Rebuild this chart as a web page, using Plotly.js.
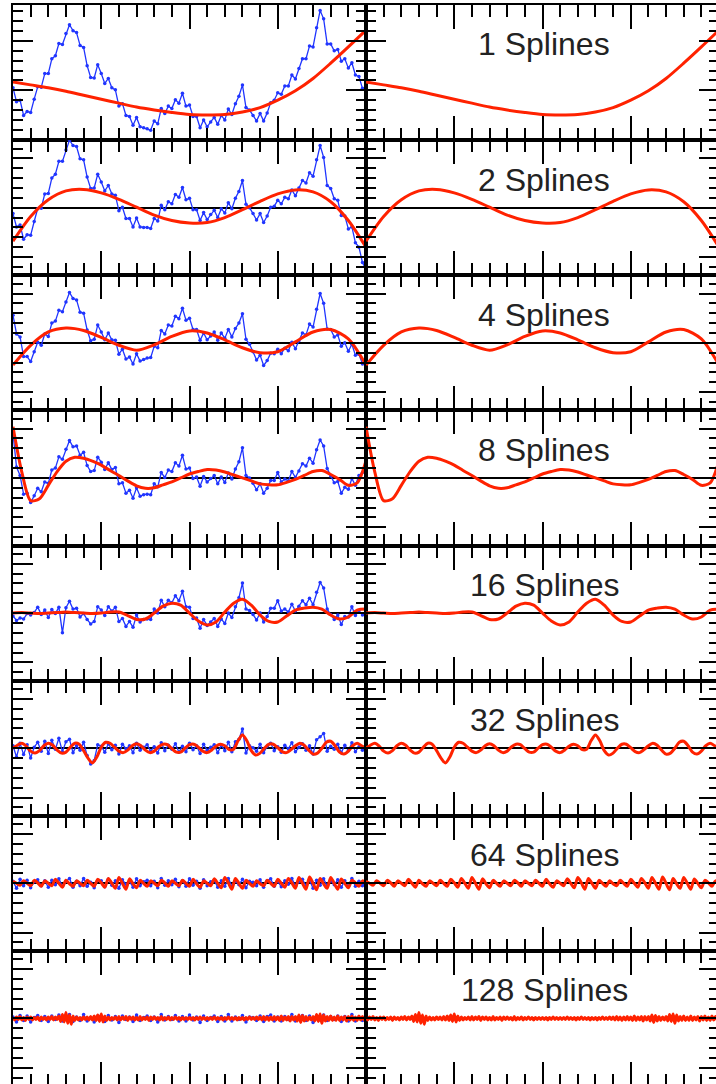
<!DOCTYPE html>
<html><head><meta charset="utf-8">
<script src="https://cdn.plot.ly/plotly-3.0.1.min.js"></script>
<style>html,body{margin:0;padding:0;overflow:hidden;background:#fff}#c{width:730px;height:1090px}</style>
</head><body><div id="c"></div>
<script>
// Residual data (blue) for each stage, sampled evenly across x = 0..20
const data1 = [0.05,-0.23,-0.2,-0.51,-0.43,-0.45,-0.18,0.07,0.06,0.34,0.34,0.64,0.7,0.95,0.93,1.15,1.33,1.21,1.17,0.91,0.87,0.5,0.26,0.25,0.52,0.34,0.14,0.24,0.05,0.01,-0.32,-0.27,-0.51,-0.53,-0.71,-0.55,-0.74,-0.76,-0.78,-0.81,-0.62,-0.68,-0.37,-0.47,-0.32,-0.37,-0.19,-0.26,-0.06,-0.32,-0.3,-0.53,-0.53,-0.76,-0.6,-0.74,-0.64,-0.55,-0.69,-0.51,-0.6,-0.38,-0.49,-0.27,-0.12,0.11,-0.35,-0.4,-0.51,-0.62,-0.47,-0.62,-0.46,-0.25,-0.2,-0.05,-0.08,0.09,0.09,0.31,0.23,0.44,0.64,0.64,0.9,0.88,1.27,1.62,1.45,0.94,0.94,0.8,0.83,0.59,0.64,0.45,0.56,0.31,0.28,0.04,-0.03];
const data2 = [-0.12,-0.39,-0.35,-0.64,-0.55,-0.56,-0.28,-0.02,-0.01,0.28,0.29,0.6,0.68,0.94,0.94,1.17,1.37,1.26,1.24,0.99,0.97,0.62,0.39,0.4,0.68,0.52,0.34,0.45,0.28,0.25,-0.06,0.01,-0.22,-0.22,-0.39,-0.21,-0.39,-0.4,-0.4,-0.42,-0.22,-0.27,0.05,-0.04,0.12,0.08,0.27,0.21,0.41,0.16,0.19,-0.04,-0.04,-0.26,-0.1,-0.24,-0.14,-0.05,-0.2,-0.02,-0.11,0.1,-0.02,0.19,0.33,0.55,0.07,0.0,-0.12,-0.25,-0.12,-0.3,-0.17,0.01,0.03,0.15,0.08,0.21,0.18,0.36,0.24,0.4,0.55,0.5,0.71,0.64,0.97,1.26,1.02,0.45,0.39,0.18,0.15,-0.16,-0.17,-0.43,-0.39,-0.71,-0.8,-1.11,-1.25];
const data3 = [0.56,0.18,0.12,-0.28,-0.28,-0.38,-0.18,0.01,-0.05,0.18,0.13,0.4,0.44,0.66,0.63,0.83,1.02,0.9,0.87,0.62,0.6,0.26,0.04,0.07,0.36,0.22,0.06,0.2,0.06,0.05,-0.23,-0.13,-0.33,-0.29,-0.43,-0.22,-0.37,-0.34,-0.31,-0.3,-0.07,-0.1,0.25,0.18,0.36,0.34,0.54,0.49,0.7,0.46,0.5,0.27,0.27,0.05,0.2,0.06,0.14,0.22,0.05,0.2,0.09,0.27,0.12,0.29,0.4,0.59,0.07,-0.03,-0.18,-0.35,-0.25,-0.46,-0.36,-0.21,-0.22,-0.13,-0.22,-0.11,-0.16,0.01,-0.12,0.04,0.2,0.16,0.38,0.32,0.68,1.0,0.8,0.28,0.27,0.12,0.16,-0.07,0.0,-0.17,-0.03,-0.25,-0.23,-0.43,-0.45];
const data4 = [0.9,0.22,0.05,-0.33,-0.31,-0.5,-0.36,-0.21,-0.28,-0.08,-0.11,0.16,0.2,0.43,0.38,0.58,0.76,0.63,0.65,0.46,0.52,0.25,0.13,0.15,0.42,0.32,0.17,0.31,0.17,0.21,-0.12,-0.1,-0.31,-0.25,-0.41,-0.2,-0.37,-0.34,-0.33,-0.34,-0.12,-0.18,0.11,0.01,0.16,0.13,0.31,0.24,0.46,0.18,0.2,-0.01,0.02,-0.17,0.03,-0.08,-0.01,0.05,-0.12,0.02,-0.09,0.1,-0.02,0.18,0.33,0.61,0.05,0.0,-0.11,-0.24,-0.12,-0.31,-0.21,-0.05,-0.05,0.11,-0.08,-0.02,-0.06,0.13,0.01,0.14,0.29,0.24,0.4,0.3,0.57,0.77,0.65,0.19,0.04,-0.1,-0.07,-0.31,-0.19,-0.23,-0.01,-0.15,0.05,0.11,0.32];
const data5 = [-0.06,-0.15,-0.1,-0.12,-0.01,-0.04,0.01,0.12,-0.03,0.06,-0.09,0.07,-0.01,0.12,-0.4,0.11,0.24,0.08,0.1,-0.08,-0.01,-0.13,-0.22,-0.17,0.13,0.06,-0.05,0.13,0.04,0.12,-0.17,-0.11,-0.27,-0.17,-0.29,-0.04,-0.18,-0.13,-0.12,-0.13,0.08,0.0,0.26,0.13,0.26,0.21,0.35,0.25,0.44,0.13,0.12,-0.11,-0.1,-0.31,-0.13,-0.25,-0.18,-0.11,-0.27,-0.12,-0.21,0.0,-0.09,0.13,0.31,0.61,0.08,0.05,-0.03,-0.14,0.0,-0.18,-0.07,0.1,0.1,0.25,0.04,0.08,0.02,0.18,0.04,0.14,0.25,0.17,0.3,0.17,0.42,0.62,0.51,0.08,-0.03,-0.13,-0.04,-0.23,-0.07,-0.08,0.13,-0.05,0.05,-0.04,-0.03];
const data6 = [0.05,-0.18,0.1,-0.13,0.07,-0.2,0.02,0.12,-0.06,0.14,-0.11,0.16,-0.02,0.2,-0.07,0.13,0.18,-0.09,0.05,-0.04,0.12,-0.15,-0.32,-0.25,0.07,0.04,-0.08,0.09,-0.03,0.06,-0.12,0.08,-0.01,0.05,-0.09,0.1,-0.04,0.02,0.07,-0.06,0.03,-0.1,0.11,-0.05,0.06,-0.02,0.09,-0.08,0.04,-0.07,0.1,-0.03,0.05,-0.11,0.08,-0.04,0.02,0.07,-0.09,0.06,-0.05,0.12,-0.07,0.13,0.18,0.39,-0.1,0.05,0.01,-0.06,0.08,-0.09,0.04,0.1,-0.05,0.03,-0.08,0.06,-0.01,0.11,-0.07,0.02,0.09,-0.04,0.05,-0.12,0.17,0.23,0.3,-0.06,0.04,-0.02,0.08,-0.09,0.06,-0.05,0.11,-0.07,0.03,-0.04,0.02];
const data7 = [0.04,-0.1,0.08,-0.05,0.06,-0.09,0.03,0.07,-0.05,0.05,-0.08,0.06,-0.03,0.09,-0.06,0.04,0.1,-0.08,0.04,-0.05,0.1,-0.06,0.02,-0.09,0.06,0.05,-0.07,0.08,-0.04,0.05,-0.1,0.07,-0.02,0.04,-0.08,0.09,-0.05,0.03,0.06,-0.05,0.04,-0.09,0.1,-0.04,0.05,-0.03,0.08,-0.07,0.05,-0.06,0.09,-0.04,0.04,-0.1,0.07,-0.05,0.03,0.06,-0.08,0.05,-0.06,0.1,-0.06,0.04,-0.03,0.08,-0.09,0.04,0.02,-0.05,0.07,-0.08,0.05,0.09,-0.06,0.04,-0.07,0.05,-0.02,0.1,-0.06,0.03,0.08,-0.05,0.06,-0.1,0.06,-0.04,0.09,-0.05,0.05,-0.03,0.07,-0.08,0.05,-0.06,0.1,-0.06,0.04,-0.05,0.03];
const data8 = [0.03,-0.07,0.06,-0.04,0.05,-0.07,0.02,0.06,-0.04,0.04,-0.06,0.05,-0.02,0.07,-0.05,0.03,0.08,-0.06,0.03,-0.04,0.08,-0.05,0.02,-0.07,0.05,0.04,-0.06,0.06,-0.03,0.04,-0.08,0.05,-0.02,0.03,-0.06,0.07,-0.04,0.02,0.05,-0.04,0.03,-0.07,0.08,-0.03,0.04,-0.02,0.06,-0.05,0.04,-0.05,0.07,-0.03,0.03,-0.08,0.05,-0.04,0.02,0.05,-0.06,0.04,-0.05,0.08,-0.05,0.03,-0.02,0.06,-0.07,0.03,0.02,-0.04,0.05,-0.06,0.04,0.07,-0.05,0.03,-0.05,0.04,-0.02,0.08,-0.05,0.02,0.06,-0.04,0.05,-0.08,0.05,-0.03,0.07,-0.04,0.04,-0.02,0.05,-0.06,0.04,-0.05,0.08,-0.05,0.03,-0.04,0.02];

// Spline fits (red), sampled evenly across x = 0..20
const fit1 = [0.17,0.11,0.05,-0.02,-0.10,-0.18,-0.26,-0.34,-0.40,-0.45,-0.49,-0.50,-0.49,-0.44,-0.35,-0.20,-0.01,0.24,0.55,0.88,1.22];
const fit2 = [-0.68,-0.18,0.16,0.34,0.37,0.30,0.17,0.01,-0.15,-0.26,-0.31,-0.30,-0.20,-0.04,0.13,0.28,0.36,0.32,0.12,-0.26,-0.80];
const fit3 = [-0.45,-0.05,0.22,0.30,0.25,0.11,-0.05,-0.15,-0.04,0.13,0.24,0.20,0.06,-0.10,-0.20,-0.18,0.02,0.22,0.27,0.08,-0.45];
const fit4 = [1.04,0.12,-0.46,-0.42,-0.15,0.13,0.34,0.42,0.40,0.34,0.26,0.15,0.05,-0.06,-0.16,-0.21,-0.20,-0.14,-0.08,0.0,0.08,0.13,0.17,0.16,0.12,0.06,0.0,-0.06,-0.12,-0.14,-0.14,-0.09,-0.03,0.05,0.13,0.15,0.07,-0.03,-0.15,-0.10,0.35];
const fit5 = [0.0,0.01,0.0,-0.01,0.0,0.01,0.02,0.01,0.0,-0.01,0.0,0.02,0.02,-0.05,-0.13,-0.12,0.0,0.14,0.2,0.16,0.0,-0.16,-0.24,-0.18,0.02,0.2,0.28,0.16,-0.04,-0.17,-0.18,-0.06,0.06,0.1,0.12,0.08,-0.04,-0.12,-0.08,0.06,0.08];
const fit6 = [0.0,0.06,0.1,0.04,-0.06,-0.1,-0.05,0.05,0.1,0.06,-0.04,-0.1,-0.08,0.02,0.1,0.08,-0.05,-0.2,-0.3,-0.18,0.02,0.12,0.1,0.02,-0.06,-0.09,-0.04,0.05,0.09,0.05,-0.04,-0.09,-0.06,0.03,0.08,0.07,-0.01,-0.08,-0.08,0.0,0.07,0.08,0.02,-0.06,-0.09,-0.04,0.04,0.08,0.05,-0.03,-0.02,0.15,0.27,0.15,-0.05,-0.14,-0.1,0.0,0.08,0.08,0.01,-0.07,-0.09,-0.03,0.05,0.1,0.06,-0.04,-0.12,-0.1,0.0,0.12,0.14,0.05,-0.08,-0.12,-0.06,0.05,0.1,0.05,0.0];
const fit7 = [0.04,0.0,-0.04,0.05,0.0,-0.05,0.06,0.01,-0.06,0.05,0.0,-0.05,0.08,0.0,-0.08,0.06,-0.01,-0.06,0.05,0.0,-0.05,0.06,0.0,-0.06,0.08,0.01,-0.08,0.1,0.0,-0.1,0.12,0.0,-0.12,0.09,-0.01,-0.09,0.06,0.0,-0.06,0.05,0.0,-0.05,0.06,0.01,-0.06,0.05,0.0,-0.05,0.06,0.0,-0.06,0.08,-0.01,-0.08,0.05,0.0,-0.05,0.09,0.0,-0.09,0.12,0.01,-0.12,0.1,0.0,-0.1,0.06,0.0,-0.06,0.05,-0.01,-0.05,0.06,0.0,-0.06,0.08,0.0,-0.08,0.1,0.01,-0.1,0.12,0.0,-0.12,0.13,0.0,-0.13,0.1,-0.01,-0.1,0.12,0.0,-0.12,0.09,0.0,-0.09,0.06,0.01,-0.06,0.05,0.0];
const fit8 = [0.02,-0.03,0.03,-0.02,0.04,-0.03,0.02,-0.04,0.03,-0.02,0.03,-0.03,0.02,-0.02,0.03,-0.04,0.03,-0.02,0.02,-0.03,0.03,-0.02,0.04,-0.03,0.03,-0.02,0.05,-0.06,0.08,-0.07,0.12,-0.1,0.07,-0.12,0.05,-0.04,0.03,-0.03,0.02,-0.03,0.03,-0.02,0.03,-0.03,0.04,-0.03,0.05,-0.04,0.07,-0.06,0.09,-0.07,0.05,-0.04,0.03,-0.03,0.02,-0.02,0.03,-0.03,0.04,-0.03,0.03,-0.02,0.04,-0.04,0.03,-0.02,0.03,-0.03,0.02,-0.03,0.04,-0.03,0.02,-0.02,0.03,-0.04,0.03,-0.02,0.03,-0.02,0.02,-0.03,0.04,-0.03,0.02,-0.02,0.03,-0.03,0.02,-0.02,0.03,-0.02,0.02,-0.03,0.02,-0.02,0.02,-0.02,0.02,-0.02,0.02,-0.03,0.02,-0.02,0.03,-0.02,0.02,-0.02,0.02,-0.02,0.02,-0.02,0.03,-0.02,0.02,-0.02,0.02,-0.03,0.02,-0.02,0.03,-0.02,0.02,-0.02,0.02,-0.03,0.02,-0.02,0.02,-0.03,0.02,-0.02,0.03,-0.02,0.02,-0.02,0.03,-0.02,0.03,-0.03,0.04,-0.03,0.03,-0.04,0.03,-0.03,0.04,-0.03,0.03,-0.04,0.05,-0.04,0.03,-0.03,0.04,-0.05,0.04,-0.03,0.04,-0.05,0.07,-0.08,0.06,-0.05,0.04,-0.04,0.03,-0.03,0.04,-0.05,0.08,-0.06,0.09,-0.1,0.07,-0.05,0.04,-0.04,0.05,-0.04,0.03,-0.04,0.05,-0.04,0.03,-0.03,0.04,-0.05,0.04,-0.03,0.05,-0.04,0.03,-0.04,0.05,-0.03,0.04,-0.03,0.02];

const splineCounts = [1, 2, 4, 8, 16, 32, 64, 128];
const dataRows = [data1, data2, data3, data4, data5, data6, data7, data8];
const fitRows = [fit1, fit2, fit3, fit4, fit5, fit6, fit7, fit8];
const xRange = [0, 20];
const yRangeFirst = [-1.01, 1.73];
const yRangeRest = [-1.37, 1.37];

const W = 730, H = 1090;
const colPx = [[13, 366], [366, 719]];
const rowTop = 5, rowH = 135.125;

function xs(arr) {
  const step = (xRange[1] - xRange[0]) / (arr.length - 1);
  return arr.map((_, i) => xRange[0] + i * step);
}

const traces = [];
const layout = {
  width: W, height: H, margin: {l: 0, r: 0, t: 0, b: 0},
  paper_bgcolor: '#fff', plot_bgcolor: '#fff', showlegend: false,
  annotations: []
};

const red = '#ff2200', blue = '#2035ff';
const tickBase = {tickwidth: 2, tickcolor: '#000', showticklabels: false, showgrid: false};
const xTicks = Object.assign({ticks: 'inside', ticklen: 24, tick0: 0, dtick: 5,
  minor: {ticks: 'inside', ticklen: 12, tickwidth: 2, tickcolor: '#000', dtick: 1, showgrid: false}}, tickBase);
const yTicks = Object.assign({ticks: 'inside', ticklen: 20, tick0: 0, dtick: 1,
  minor: {ticks: 'inside', ticklen: 10, tickwidth: 2, tickcolor: '#000', dtick: 0.2, showgrid: false}}, tickBase);

for (let r = 0; r < 8; r++) {
  const top = rowTop + r * rowH, bot = top + rowH;
  const yDom = [1 - bot / H, 1 - top / H];
  const yR = r === 0 ? yRangeFirst : yRangeRest;
  for (let c = 0; c < 2; c++) {
    const k = r * 2 + c + 1;
    const sfx = k === 1 ? '' : String(k);
    const xn = 'x' + sfx, yn = 'y' + sfx;
    const k2 = k + 16;
    layout['xaxis' + sfx] = Object.assign({
      domain: [colPx[c][0] / W, colPx[c][1] / W], anchor: yn, range: xRange,
      showline: true, linecolor: '#000', linewidth: 2, mirror: true, zeroline: false
    }, xTicks);
    layout['yaxis' + sfx] = Object.assign({
      domain: yDom, anchor: xn, range: yR,
      showline: true, linecolor: '#000', linewidth: 2, mirror: true,
      zeroline: r > 0, zerolinecolor: '#000', zerolinewidth: 2
    }, yTicks);
    // mirrored axes carrying the ticks on the top and right edges
    layout['xaxis' + k2] = Object.assign({
      overlaying: xn, anchor: yn, side: 'top', range: xRange, showline: false, zeroline: false
    }, xTicks);
    layout['yaxis' + k2] = Object.assign({
      overlaying: yn, anchor: xn, side: 'right', range: yR, showline: false, zeroline: false
    }, yTicks);
    traces.push({type: 'scatter', mode: 'markers', x: [null], y: [null], xaxis: 'x' + k2, yaxis: yn, hoverinfo: 'skip'});
    traces.push({type: 'scatter', mode: 'markers', x: [null], y: [null], xaxis: xn, yaxis: 'y' + k2, hoverinfo: 'skip'});
    if (c === 0) {
      traces.push({
        type: 'scatter', mode: 'lines+markers', x: xs(dataRows[r]), y: dataRows[r],
        xaxis: xn, yaxis: yn,
        line: {color: blue, width: 1.3}, marker: {color: blue, size: 3.5}
      });
    }
    traces.push({
      type: 'scatter', mode: 'lines', x: xs(fitRows[r]), y: fitRows[r],
      xaxis: xn, yaxis: yn,
      line: {color: red, width: 3, shape: 'spline', smoothing: 0.8}
    });
  }
  layout.annotations.push({
    xref: 'paper', yref: 'paper', x: 544 / W, y: 1 - (top + 39.5) / H,
    xanchor: 'center', yanchor: 'middle', showarrow: false,
    text: splineCounts[r] + ' Splines',
    font: {family: 'Liberation Sans, Arial, sans-serif', size: 32, color: '#222'}
  });
}

Plotly.newPlot('c', traces, layout, {staticPlot: true, displayModeBar: false});
</script></body></html>
